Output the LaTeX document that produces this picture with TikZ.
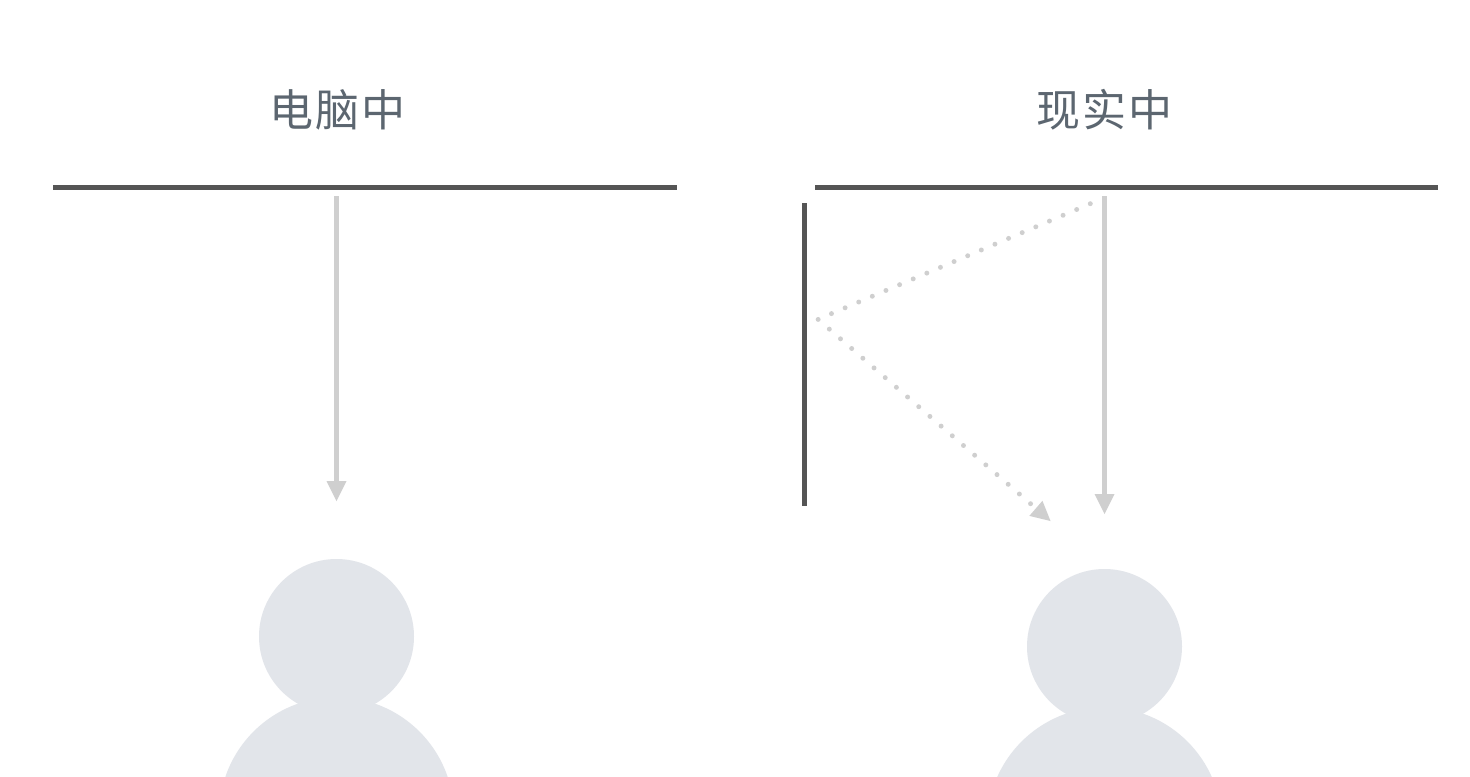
\documentclass[tikz,border=0pt]{standalone}
\usepackage{fontspec}
\usetikzlibrary{arrows.meta}
\newfontfamily\cjk[LetterSpace=5]{Noto Sans CJK SC}
\definecolor{rulecol}{HTML}{555555}
\definecolor{raycol}{HTML}{CFCFCF}
\definecolor{personcol}{HTML}{E2E5EA}
\definecolor{titlecol}{HTML}{5C6670}
\tikzset{
  wall/.style={draw=rulecol,line width=3.75pt},
  ray/.style={draw=raycol,line width=3.75pt,-{Triangle[length=15pt,width=15pt,line width=0pt]}},
  bounce/.style={draw=raycol,line width=3.7pt,line cap=round,dash pattern=on 0pt off 11.1pt,
    -{Triangle[length=14.5pt,width=15pt,line width=0pt]}},
  head/.style={circle,fill=personcol,inner sep=0pt,minimum size=116.25pt},
  body/.style={circle,fill=personcol,inner sep=0pt,minimum size=176pt},
  title/.style={text=titlecol,font=\cjk\fontsize{33pt}{36pt}\selectfont,inner sep=0pt}
}
\begin{document}
\begin{tikzpicture}[x=0.75pt,y=-0.75pt]
\useasboundingbox (0,0) rectangle (1470,776);
\clip (0,0) rectangle (1470,776);
\fill[white] (0,0) rectangle (1470,776);

\node[title] (titleL) at (337.5,110) {电脑中};
\node[title] (titleR) at (1104.5,110) {现实中};

\coordinate (wallLa) at (53,187.5);
\coordinate (wallLb) at (677,187.5);
\coordinate (wallRa) at (815,187.5);
\coordinate (wallRb) at (1438,187.5);
\coordinate (wallSa) at (804.5,203);
\coordinate (wallSb) at (804.5,506);
\draw[wall] (wallLa) -- (wallLb);
\draw[wall] (wallRa) -- (wallRb);
\draw[wall] (wallSa) -- (wallSb);

\node[body] (bodyL) at (336.5,814.5) {};
\node[head] (headL) at (336.5,636.5) {};
\node[body] (bodyR) at (1104.5,824.5) {};
\node[head] (headR) at (1104.5,646.5) {};

\coordinate (rayLa) at (336.5,196);
\coordinate (rayLb) at (336.5,501);
\coordinate (rayRa) at (1104.5,196);
\coordinate (rayRb) at (1104.5,514);
\draw[ray] (rayLa) -- (rayLb);
\draw[ray] (rayRa) -- (rayRb);

\coordinate (bounceA) at (1090.3,203.7);
\coordinate (bounceB) at (818,319.3);
\coordinate (bounceC) at (1050.5,521);
\draw[bounce] (bounceA) -- (bounceB) -- (bounceC);
\end{tikzpicture}
\end{document}
